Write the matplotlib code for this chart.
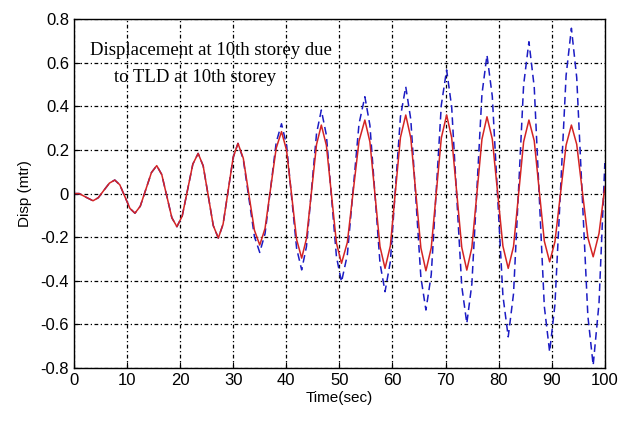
import matplotlib
matplotlib.use("Agg")
import matplotlib.pyplot as plt

# time samples (sec) at extrema and between them
time = [0, 1.0, 2.3, 3.6,
        4.6, 5.65, 6.7, 7.7,
        8.65, 9.6, 10.55, 11.5,
        12.5, 13.55, 14.6, 15.6,
        16.55, 17.5, 18.45, 19.4,
        20.4, 21.4, 22.4, 23.4,
        24.35, 25.3, 26.25, 27.2,
        28.1, 29.05, 30.0, 30.9,
        31.9, 32.95, 34.0, 35.0,
        36.0, 37.05, 38.1, 39.1,
        40.05, 41.0, 41.95, 42.9,
        43.8, 44.75, 45.7, 46.6,
        47.55, 48.5, 49.45, 50.4,
        51.5, 52.6, 53.7, 54.8,
        55.75, 56.7, 57.65, 58.6,
        59.6, 60.55, 61.5, 62.5,
        63.45, 64.4, 65.35, 66.3,
        67.3, 68.25, 69.2, 70.2,
        71.15, 72.1, 73.05, 74.0,
        74.95, 75.9, 76.85, 77.8,
        78.8, 79.8, 80.8, 81.8,
        82.8, 83.75, 84.7, 85.7,
        86.7, 87.65, 88.6, 89.6,
        90.6, 91.65, 92.7, 93.7,
        94.7, 95.75, 96.8, 97.8,
        98.9, 100.0]

# with TLD (red)
disp_tld = [0, 0, -0.017, -0.033,
            -0.019, 0.015, 0.048, 0.062,
            0.040, -0.014, -0.068, -0.090,
            -0.058, 0.019, 0.096, 0.128,
            0.087, -0.012, -0.111, -0.152,
            -0.103, 0.016, 0.135, 0.184,
            0.127, -0.010, -0.147, -0.204,
            -0.140, 0.013, 0.166, 0.230,
            0.162, -0.003, -0.168, -0.236,
            -0.160, 0.024, 0.208, 0.284,
            0.199, -0.006, -0.211, -0.296,
            -0.207, 0.009, 0.225, 0.314,
            0.221, -0.003, -0.227, -0.320,
            -0.224, 0.009, 0.241, 0.337,
            0.237, -0.003, -0.243, -0.343,
            -0.240, 0.009, 0.257, 0.360,
            0.255, 0.003, -0.249, -0.354,
            -0.249, 0.003, 0.255, 0.360,
            0.256, 0.005, -0.247, -0.351,
            -0.248, 0.001, 0.249, 0.352,
            0.250, 0.005, -0.241, -0.343,
            -0.243, -0.003, 0.237, 0.337,
            0.242, 0.012, -0.218, -0.313,
            -0.221, 0.001, 0.222, 0.314,
            0.226, 0.012, -0.202, -0.290,
            -0.183, 0.03]

# without TLD (blue dashed)
disp_none = [0, 0, -0.017, -0.033,
             -0.019, 0.015, 0.048, 0.062,
             0.040, -0.014, -0.068, -0.090,
             -0.058, 0.019, 0.096, 0.128,
             0.087, -0.012, -0.111, -0.152,
             -0.103, 0.016, 0.135, 0.184,
             0.127, -0.010, -0.147, -0.204,
             -0.140, 0.013, 0.166, 0.230,
             0.157, -0.020, -0.197, -0.270,
             -0.184, 0.025, 0.234, 0.320,
             0.222, -0.015, -0.252, -0.350,
             -0.243, 0.017, 0.276, 0.383,
             0.268, -0.011, -0.290, -0.405,
             -0.281, 0.020, 0.320, 0.444,
             0.313, -0.003, -0.319, -0.450,
             -0.312, 0.020, 0.352, 0.490,
             0.340, -0.022, -0.384, -0.534,
             -0.373, 0.017, 0.406, 0.567,
             0.397, -0.014, -0.425, -0.595,
             -0.415, 0.020, 0.455, 0.635,
             0.446, -0.011, -0.468, -0.657,
             -0.459, 0.020, 0.498, 0.696,
             0.488, -0.015, -0.518, -0.726,
             -0.509, 0.016, 0.541, 0.758,
             0.532, -0.015, -0.561, -0.787,
             -0.503, 0.14]

xticks = [0, 10, 20, 30, 40, 50, 60, 70, 80, 90, 100]
yticks = [-0.8, -0.6, -0.4, -0.2, 0, 0.2, 0.4, 0.6, 0.8]
ytick_labels = ['-0.8', '-0.6', '-0.4', '-0.2', '0', '0.2', '0.4', '0.6', '0.8']

fig = plt.figure(figsize=(6.21, 4.24), dpi=100)
ax = fig.add_axes([0.119, 0.132, 0.855, 0.823])

ax.plot(time, disp_none, color='#1c1cc4', linestyle=(0, (5, 3)), linewidth=1.1)
ax.plot(time, disp_tld, color='#d42424', linewidth=1.1, solid_joinstyle='round')

ax.set_xlim(0, 100)
ax.set_ylim(-0.8, 0.8)
ax.set_xticks(xticks)
ax.set_yticks(yticks)
ax.set_yticklabels(ytick_labels)
ax.tick_params(direction='in', length=4, labelsize=12, width=0.8)
for lab in ax.get_xticklabels() + ax.get_yticklabels():
    lab.set_family('Liberation Sans')
ax.grid(True, color='black', linestyle=(0, (3, 2, 1, 2)), linewidth=0.9)
for sp in ax.spines.values():
    sp.set_linewidth(1.0)

ax.set_xlabel('Time(sec)', fontsize=11, family='Liberation Sans', labelpad=2)
ax.set_ylabel('Disp (mtr)', fontsize=11, family='Liberation Sans', labelpad=6)

ax.text(3.0, 0.658, 'Displacement at 10th storey due',
        fontsize=13.5, family='Liberation Serif', ha='left', va='center')
ax.text(7.6, 0.53, 'to TLD at 10th storey',
        fontsize=13.5, family='Liberation Serif', ha='left', va='center')

fig.savefig('out.png', dpi=100)
